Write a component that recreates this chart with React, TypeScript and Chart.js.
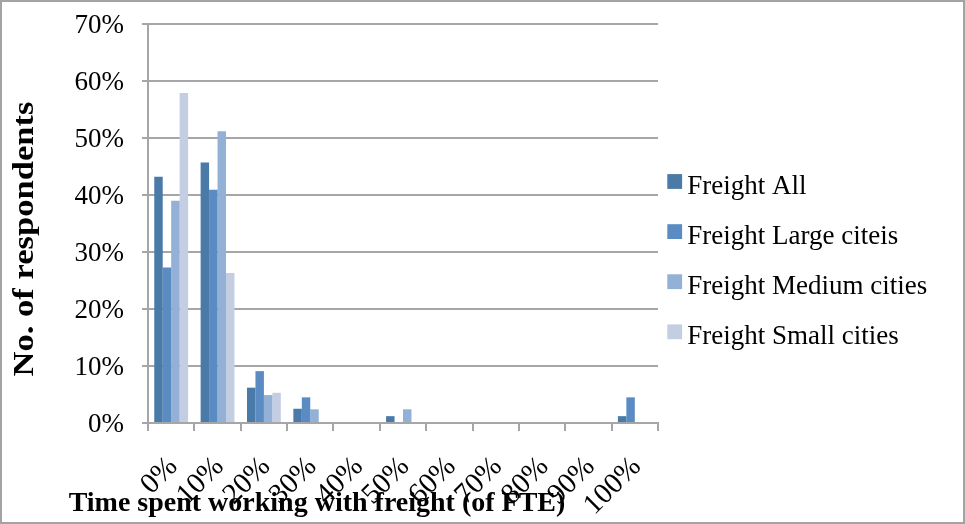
import { useEffect, useRef } from "react";
import { Chart, registerables } from "chart.js";

Chart.register(...registerables);

const categories = ["0%", "10%", "20%", "30%", "40%", "50%", "60%", "70%", "80%", "90%", "100%"];
const seriesNames = ["Freight All", "Freight Large citeis", "Freight Medium cities", "Freight Small cities"];
const freightAll = [43.2, 45.7, 6.2, 2.5, 0, 1.2, 0, 0, 0, 0, 1.2];
const freightLarge = [27.3, 40.9, 9.1, 4.5, 0, 0, 0, 0, 0, 0, 4.5];
const freightMedium = [39.0, 51.2, 4.9, 2.4, 0, 2.4, 0, 0, 0, 0, 0];
const freightSmall = [57.9, 26.3, 5.3, 0, 0, 0, 0, 0, 0, 0, 0];
const seriesColors = ["#4A7AA7", "#5A8CC3", "#93B0D6", "#C4CEE3"];
const yMin = 0;
const yMax = 70;
const yStep = 10;
const xTitle = "Time spent working with freight (of FTE)";
const yTitle = "No. of respondents";

const FONT = "'Liberation Serif', 'Times New Roman', serif";

const sideLegend = {
  id: "sideLegend",
  afterDraw(chart: any) {
    const { ctx, chartArea } = chart;
    ctx.save();
    ctx.font = `27px ${FONT}`;
    ctx.textAlign = "left";
    ctx.textBaseline = "alphabetic";
    chart.data.datasets.forEach((ds: any, i: number) => {
      const cy = 179.5 + i * 50.1;
      const bx = chartArea.right + 9.3;
      ctx.fillStyle = ds.backgroundColor;
      ctx.fillRect(bx, cy - 7.4, 14.8, 14.8);
      ctx.fillStyle = "#000";
      ctx.fillText(ds.label, bx + 20, cy + 12);
    });
    ctx.restore();
  },
};

const axisTitles = {
  id: "axisTitles",
  afterDraw(chart: any) {
    const { ctx } = chart;
    ctx.save();
    ctx.fillStyle = "#000";
    ctx.font = `bold 28px ${FONT}`;
    ctx.textAlign = "center";
    ctx.textBaseline = "alphabetic";
    ctx.fillText(xTitle, 315, 509);
    ctx.font = `bold 30px ${FONT}`;
    const w = ctx.measureText(yTitle).width;
    ctx.translate(31, 237);
    ctx.rotate(-Math.PI / 2);
    ctx.scale(275 / w, 1);
    ctx.fillText(yTitle, 0, 0);
    ctx.restore();
  },
};

export default function App() {
  const ref = useRef<HTMLCanvasElement | null>(null);

  useEffect(() => {
    if (!ref.current) return;
    const values = [freightAll, freightLarge, freightMedium, freightSmall];
    const chart = new Chart(ref.current, {
      type: "bar",
      data: {
        labels: categories,
        datasets: seriesNames.map((name, i) => ({
          label: name,
          data: values[i],
          backgroundColor: seriesColors[i],
          borderWidth: 0,
          barPercentage: 1,
          categoryPercentage: 0.73,
        })),
      },
      options: {
        animation: false,
        responsive: false,
        devicePixelRatio: 1,
        layout: { padding: { top: 22, right: 305, left: 0, bottom: 0 } },
        plugins: {
          legend: { display: false },
          tooltip: { enabled: false },
        },
        scales: {
          x: {
            offset: true,
            grid: {
              offset: true,
              drawOnChartArea: false,
              drawTicks: true,
              tickLength: 8,
              color: "#a6a6a6",
              lineWidth: 2,
            },
            border: { color: "#a6a6a6", width: 2 },
            ticks: {
              color: "#000",
              font: { family: FONT, size: 29 },
              minRotation: 45,
              maxRotation: 45,
              autoSkip: false,
              padding: 19,
              labelOffset: 2,
            },
            afterFit(scale: any) {
              scale.height = 99;
              scale.paddingLeft = 0;
              scale.paddingRight = 0;
            },
          },
          y: {
            min: yMin,
            max: yMax,
            grid: {
              color: "#a6a6a6",
              lineWidth: 2,
              tickLength: 6,
            },
            border: { color: "#a6a6a6", width: 2 },
            ticks: {
              stepSize: yStep,
              color: "#000",
              font: { family: FONT, size: 27 },
              padding: 18,
              labelOffset: 2,
              callback: (v: any) => `${v}%`,
            },
            afterFit(scale: any) {
              scale.width = 146;
              scale.paddingTop = 0;
              scale.paddingBottom = 0;
            },
          },
        },
      },
      plugins: [sideLegend, axisTitles],
    });
    return () => chart.destroy();
  }, []);

  return (
    <div
      style={{
        position: "absolute",
        left: 0,
        top: 0,
        width: 965,
        height: 524,
        boxSizing: "border-box",
        border: "2px solid #a3a3a3",
        background: "#fff",
      }}
    >
      <canvas ref={ref} width={961} height={520} style={{ display: "block" }} />
    </div>
  );
}
